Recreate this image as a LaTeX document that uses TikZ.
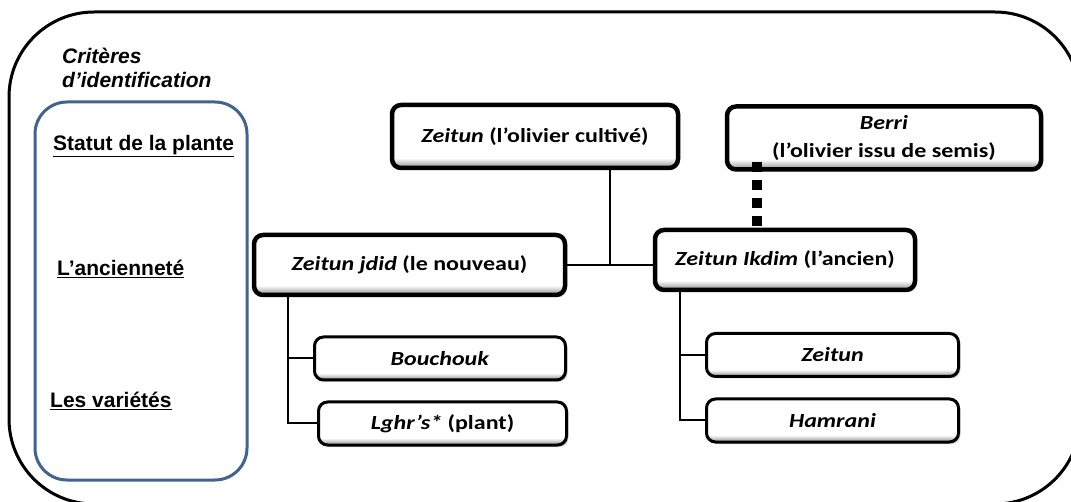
\documentclass[tikz,border=0pt]{standalone}
\usepackage{fontspec}
\usepackage{xcolor}
\usepackage{tikz}
\usetikzlibrary{calc,shadows}
\setmainfont{Carlito}
\newfontfamily\boxfont{Carlito}[FakeStretch=1.2]
\newfontfamily\critfont{Liberation Sans}
\definecolor{critblue}{RGB}{65,100,143}
\pgfdeclareverticalshading{boxshade}{100bp}{color(0bp)=(black!45); color(25bp)=(black!45); color(33bp)=(white); color(100bp)=(white)}

\begin{document}
\begin{tikzpicture}[x=1pt, y=-1pt,
  box/.style={draw, line width=3pt, rounded corners=9pt, shade, shading=boxshade, align=center, inner sep=0pt,
    font=\boxfont\bfseries\fontsize{20}{28}\selectfont,
    drop shadow={opacity=0.35, shadow xshift=2pt, shadow yshift=-2pt}},
  topbox/.style={box, line width=4.5pt, minimum height=63pt},
  varbox/.style={box, minimum height=43pt},
  critlabel/.style={font=\critfont\bfseries\fontsize{21}{25}\selectfont, inner sep=0pt, anchor=west},
  link/.style={line width=2pt},
  seedlink/.style={line width=10pt, dash pattern=on 10pt off 8pt}]

  \useasboundingbox (0,0) rectangle (1071,502);
  \clip (0,0) rectangle (1071,502);

  % cadres
  \draw[line width=3pt, rounded corners=85pt] (9,12) rectangle (1080,504);
  \draw[critblue, line width=3pt, rounded corners=32pt] (35,102) rectangle (247,480);

  % criteres
  \node[critlabel, align=left, font=\critfont\bfseries\itshape\fontsize{21}{24}\selectfont] (critere) at (62,68) {Critères\\d’identification};
  \node[critlabel] (statut) at (53,146) {\underline{Statut de la plante}};
  \node[critlabel] (anciennete) at (57,269) {\underline{L’ancienneté}};
  \node[critlabel] (varietes) at (50,401) {\underline{Les variétés}};

  % boites
  \node[topbox, minimum width=286pt] (cultive) at (535,136.5) {\textit{Zeitun} (l’olivier cultivé)};
  \node[topbox, minimum width=314pt] (berri) at (884,138) {\textit{Berri}\\(l’olivier issu de semis)};
  \node[topbox, minimum width=311pt, minimum height=60pt] (jdid) at (409.5,265) {\textit{Zeitun jdid} (le nouveau)};
  \node[topbox, minimum width=260pt, minimum height=60pt] (ikdim) at (785,260) {\textit{Zeitun Ikdim} (l’ancien)};
  \node[varbox, minimum width=251pt] (bouchouk) at (440,358.5) {\textit{Bouchouk}};
  \node[varbox, minimum width=248pt] (lghrs) at (442.5,423.5) {\textit{Lghr’s*} (plant)};
  \node[varbox, minimum width=252pt] (zeitunv) at (832.5,355) {\textit{Zeitun}};
  \node[varbox, minimum width=252pt] (hamrani) at (832.5,420.5) {\textit{Hamrani}};

  % liens
  \coordinate (joint) at ($(jdid.east)!0.5!(ikdim.west |- jdid.east)$);
  \draw[link] (jdid.east) -- (ikdim.west |- jdid.east);
  \draw[link] (joint) -- (joint |- cultive.south);
  \draw[link] ([xshift=36pt]jdid.south west) |- (bouchouk.west);
  \draw[link] ([xshift=36pt]jdid.south west) |- (lghrs.west);
  \draw[link] ([xshift=27pt]ikdim.south west) |- (zeitunv.west);
  \draw[link] ([xshift=27pt]ikdim.south west) |- (hamrani.west);
  \coordinate (seedtop) at ([xshift=32pt,yshift=10pt]berri.south west);
  \draw[seedlink] (seedtop) -- (seedtop |- ikdim.north);
\end{tikzpicture}
\end{document}
